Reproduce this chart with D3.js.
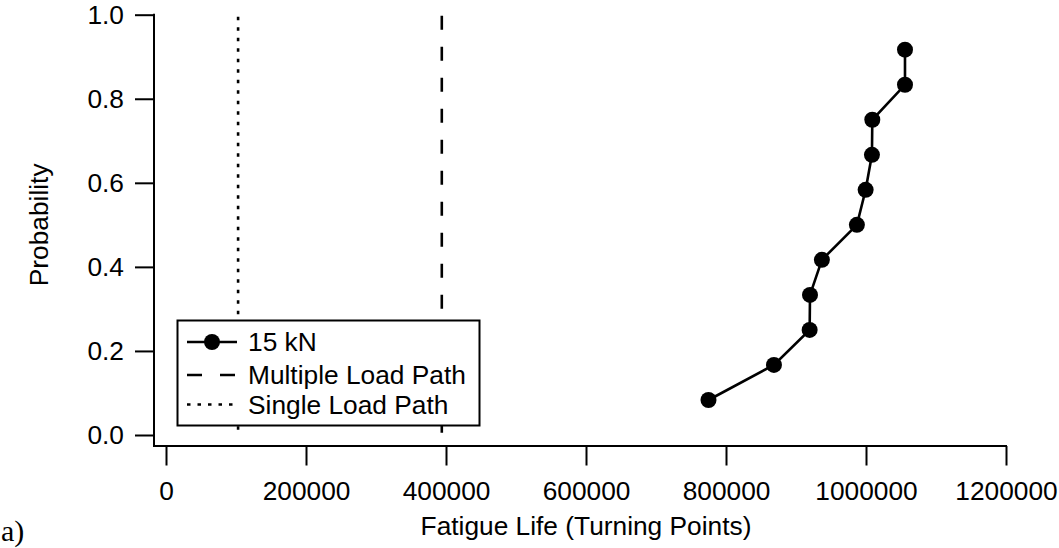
<!DOCTYPE html>
<html>
<head>
<meta charset="utf-8">
<script src="https://cdn.jsdelivr.net/npm/d3@7"></script>
<style>
  html, body { margin: 0; padding: 0; background: #fff; }
  svg { display: block; }
  text { font-family: "Liberation Sans", Arial, sans-serif; fill: #000; }
</style>
</head>
<body>
<svg id="chart" width="1059" height="548"></svg>
<script>
// Fatigue life of each specimen at 15 kN (turning points) and its cumulative probability
const fatigueLife = [775000, 868500, 919500, 920000, 937000, 987000, 999500, 1008500, 1009000, 1055700, 1055700];
const probability = [0.0833, 0.1667, 0.25, 0.3333, 0.4167, 0.5, 0.5833, 0.6667, 0.75, 0.8333, 0.9167];

// Predicted lives for the two reference load-path models
const multipleLoadPath = 394000;
const singleLoadPath = 103000;

const xTicks = [0, 200000, 400000, 600000, 800000, 1000000, 1200000];
const yTicks = [0, 0.2, 0.4, 0.6, 0.8, 1.0];

const legendLabels = ["15 kN", "Multiple Load Path", "Single Load Path"];

const svg = d3.select("#chart");
const FS = 26.3;

const x = d3.scaleLinear().domain([0, 1200000]).range([166, 1006]);
const y = d3.scaleLinear().domain([0, 1]).range([435, 14.7]);

const axisX = 446;   // offset horizontal axis line
const axisY = 154;   // offset vertical axis line

// Axis lines (offset from the data origin)
svg.append("line")
  .attr("x1", axisY).attr("x2", axisY)
  .attr("y1", y(1) - 1).attr("y2", axisX + 1)
  .attr("stroke", "#000").attr("stroke-width", 2);
svg.append("line")
  .attr("x1", axisY - 1).attr("x2", x(1200000) + 1)
  .attr("y1", axisX).attr("y2", axisX)
  .attr("stroke", "#000").attr("stroke-width", 2);

// Left axis
const gy = svg.append("g")
  .attr("transform", `translate(${axisY},0)`)
  .call(d3.axisLeft(y).tickValues(yTicks).tickFormat(d3.format(".1f"))
    .tickSizeInner(19).tickSizeOuter(0).tickPadding(11));
gy.select(".domain").remove();
gy.selectAll(".tick line").attr("stroke", "#000").attr("stroke-width", 2);
gy.selectAll(".tick text").attr("font-size", FS).attr("font-family", "Liberation Sans, Arial, sans-serif");

// Bottom axis
const gx = svg.append("g")
  .attr("transform", `translate(0,${axisX})`)
  .call(d3.axisBottom(x).tickValues(xTicks).tickFormat(d3.format("d"))
    .tickSizeInner(19.5).tickSizeOuter(0).tickPadding(16));
gx.select(".domain").remove();
gx.selectAll(".tick line").attr("stroke", "#000").attr("stroke-width", 2);
gx.selectAll(".tick text").attr("font-size", FS).attr("font-family", "Liberation Sans, Arial, sans-serif");

// Reference lines
svg.append("line")
  .attr("x1", x(singleLoadPath)).attr("x2", x(singleLoadPath))
  .attr("y1", y(1) + 2).attr("y2", y(0))
  .attr("stroke", "#000").attr("stroke-width", 2.6)
  .attr("stroke-dasharray", "3.5,7");
svg.append("line")
  .attr("x1", x(multipleLoadPath)).attr("x2", x(multipleLoadPath))
  .attr("y1", y(1) + 1).attr("y2", y(0))
  .attr("stroke", "#000").attr("stroke-width", 2.6)
  .attr("stroke-dasharray", "14,17");

// Data series
const pts = fatigueLife.map((v, i) => [v, probability[i]]);
svg.append("path")
  .datum(pts)
  .attr("fill", "none").attr("stroke", "#000").attr("stroke-width", 2.6)
  .attr("d", d3.line().x(d => x(d[0])).y(d => y(d[1])));
svg.append("g").selectAll("circle")
  .data(pts).join("circle")
  .attr("cx", d => x(d[0])).attr("cy", d => y(d[1]))
  .attr("r", 8).attr("fill", "#000");

// Legend
const lg = svg.append("g");
lg.append("rect")
  .attr("x", 177.5).attr("y", 320.5).attr("width", 302).attr("height", 105)
  .attr("fill", "#fff").attr("stroke", "#000").attr("stroke-width", 2);
const rowY = [342, 375, 404.5];
const sx1 = 187, sx2 = 237;
lg.append("line").attr("x1", sx1).attr("x2", sx2).attr("y1", rowY[0]).attr("y2", rowY[0])
  .attr("stroke", "#000").attr("stroke-width", 2.6);
lg.append("circle").attr("cx", (sx1 + sx2) / 2).attr("cy", rowY[0]).attr("r", 8).attr("fill", "#000");
lg.append("line").attr("x1", sx1).attr("x2", sx2).attr("y1", rowY[1]).attr("y2", rowY[1])
  .attr("stroke", "#000").attr("stroke-width", 2.6).attr("stroke-dasharray", "15,18");
lg.append("line").attr("x1", sx1).attr("x2", sx2).attr("y1", rowY[2]).attr("y2", rowY[2])
  .attr("stroke", "#000").attr("stroke-width", 2.6).attr("stroke-dasharray", "3.5,7");
lg.selectAll("text.lab").data(legendLabels).join("text")
  .attr("class", "lab")
  .attr("x", 248).attr("y", (d, i) => rowY[i] + 9)
  .attr("font-size", FS)
  .text(d => d);

// Axis titles
svg.append("text")
  .attr("x", (x(0) + x(1200000)) / 2).attr("y", 535)
  .attr("text-anchor", "middle").attr("font-size", FS)
  .text("Fatigue Life (Turning Points)");
svg.append("text")
  .attr("transform", `translate(48,${(y(0) + y(1)) / 2}) rotate(-90)`)
  .attr("text-anchor", "middle").attr("font-size", FS)
  .text("Probability");

// Panel label
svg.append("text")
  .attr("x", 1).attr("y", 541)
  .style("font-family", "'Liberation Serif', 'Times New Roman', serif")
  .attr("font-size", 30)
  .text("a)");
</script>
</body>
</html>
